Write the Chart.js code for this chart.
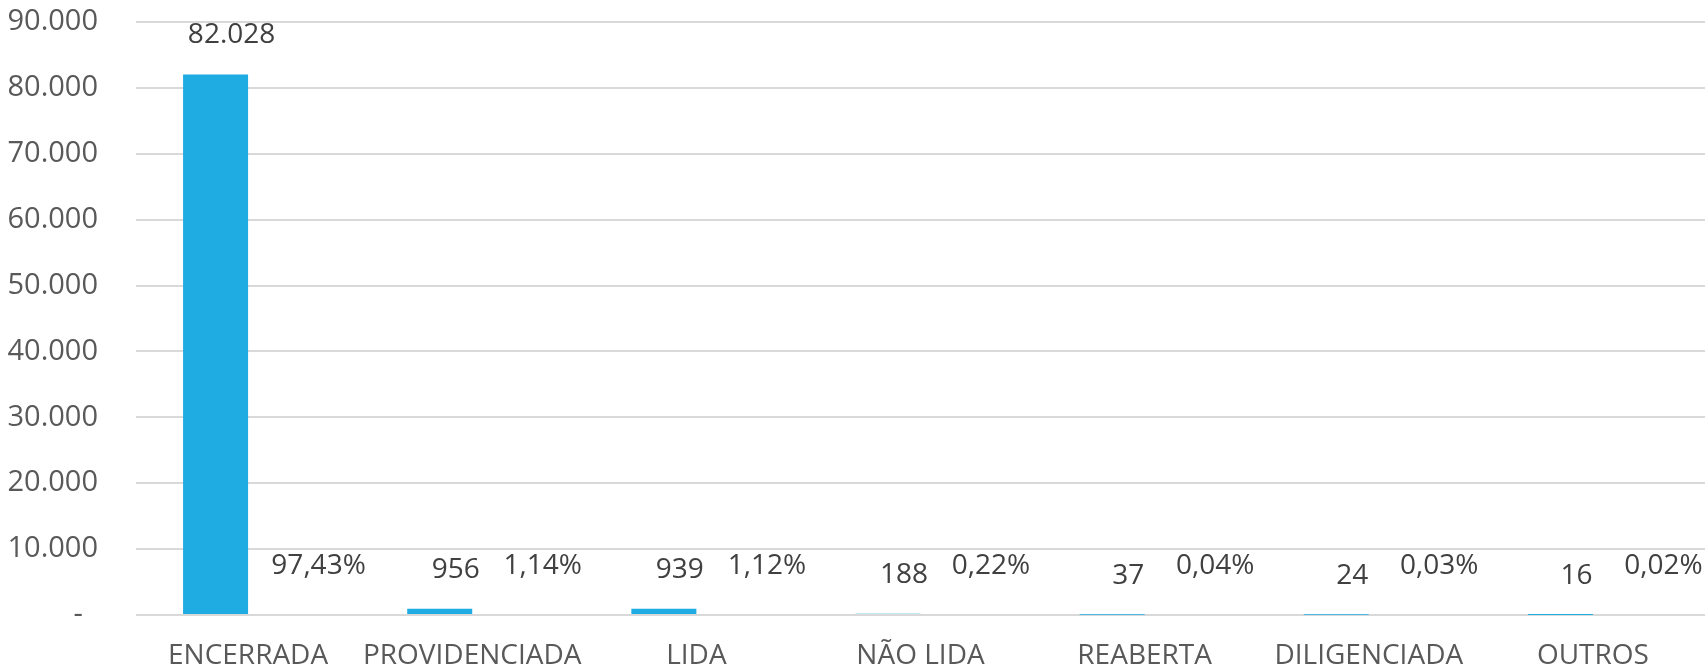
<!DOCTYPE html>
<html>
<head>
<meta charset="utf-8">
<script src="https://cdn.jsdelivr.net/npm/chart.js@4/dist/chart.umd.min.js"></script>
<style>
  html, body { margin: 0; padding: 0; background: #ffffff; }
  #wrap { width: 1708px; height: 670px; position: relative; }
</style>
</head>
<body>
<div id="wrap"><canvas id="c" width="1708" height="670"></canvas></div>
<script>
const categories = ['ENCERRADA', 'PROVIDENCIADA', 'LIDA', 'NÃO LIDA', 'REABERTA', 'DILIGENCIADA', 'OUTROS'];
const counts = [82028, 956, 939, 188, 37, 24, 16];
const percents = [97.43, 1.14, 1.12, 0.22, 0.04, 0.03, 0.02];
const countLabels = ['82.028', '956', '939', '188', '37', '24', '16'];
const percentLabels = ['97,43%', '1,14%', '1,12%', '0,22%', '0,04%', '0,03%', '0,02%'];
const yTickLabels = ['-\u00A0\u00A0', '10.000', '20.000', '30.000', '40.000', '50.000', '60.000', '70.000', '80.000', '90.000'];

const FONT = "'Open Sans', 'Liberation Sans', sans-serif";

const labelPlugin = {
  id: 'barLabels',
  afterDatasetsDraw(chart) {
    const ctx = chart.ctx;
    ctx.save();
    ctx.font = '28px ' + FONT;
    ctx.fillStyle = '#404040';
    ctx.textAlign = 'center';
    ctx.textBaseline = 'middle';
    chart.data.datasets.forEach((ds, di) => {
      const meta = chart.getDatasetMeta(di);
      const texts = ds.labelTexts;
      meta.data.forEach((bar, i) => {
        ctx.fillText(texts[i], bar.x + ds.labelDx, bar.y + ds.labelDy);
      });
    });
    ctx.restore();
  }
};

new Chart(document.getElementById('c'), {
  type: 'bar',
  data: {
    labels: categories,
    datasets: [
      {
        label: 'Quantidade',
        data: counts,
        backgroundColor: '#1EACE3',
        borderWidth: 0,
        labelTexts: countLabels,
        labelDx: 16,
        labelDy: -39
      },
      {
        label: 'Percentual',
        data: percents,
        backgroundColor: '#1F74C8',
        borderWidth: 0,
        minBarLength: 1,
        labelTexts: percentLabels,
        labelDx: 38,
        labelDy: -48
      }
    ]
  },
  options: {
    responsive: false,
    animation: false,
    devicePixelRatio: 1,
    layout: { padding: { top: 22, right: 3, left: 0, bottom: 0 } },
    plugins: {
      legend: { display: false },
      tooltip: { enabled: false }
    },
    datasets: {
      bar: { categoryPercentage: 0.58, barPercentage: 1.0 }
    },
    scales: {
      x: {
        grid: { display: false, drawTicks: false },
        border: { display: false },
        ticks: {
          color: '#595959',
          font: { family: FONT, size: 28 },
          padding: 24,
          maxRotation: 0,
          autoSkip: false
        },
        afterFit(scale) { scale.height = 55; }
      },
      y: {
        min: 0,
        max: 90000,
        grid: { color: '#D9D9D9', lineWidth: 2, drawTicks: true, tickLength: 38, tickColor: 'rgba(0,0,0,0)' },
        border: { display: false },
        ticks: {
          stepSize: 10000,
          color: '#595959',
          font: { family: FONT, size: 29 },
          padding: 0,
          callback: (v) => yTickLabels[Math.round(v / 10000)]
        },
        afterFit(scale) { scale.width = 136; }
      }
    }
  },
  plugins: [labelPlugin]
});
</script>
</body>
</html>
